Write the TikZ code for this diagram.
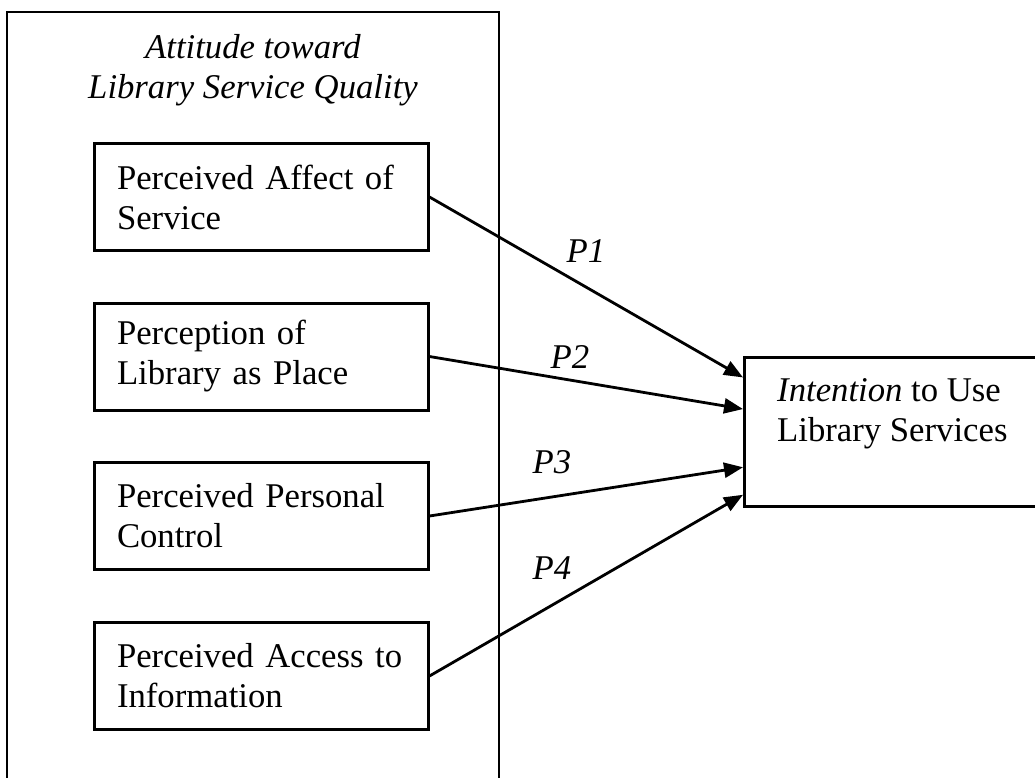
\documentclass[tikz,border=0pt]{standalone}
\usepackage{fontspec}
\setmainfont{Liberation Serif}
\usetikzlibrary{arrows.meta,calc}
\begin{document}
\begin{tikzpicture}[x=1pt,y=-1pt,
  font=\fontsize{34.7}{40}\selectfont,
  frame/.style={draw,line width=2pt},
  factor/.style={draw,line width=3pt,minimum width=334pt,minimum height=107pt,
    text width=288pt,align=left,inner xsep=23pt,inner ysep=0pt},
  outcome/.style={draw,line width=3pt,minimum width=320pt,minimum height=149pt,
    anchor=north west,inner sep=0pt},
  plain/.style={inner sep=0pt},
  conn/.style={line width=2.8pt,-{Triangle[length=19pt,width=15pt]}},
  plabel/.style={inner sep=0pt,anchor=base,font=\fontsize{34.7}{40}\selectfont\itshape}]
\useasboundingbox (0,0) rectangle (1035,777);
\clip (0,0) rectangle (1035,777);

% group frame (open at the bottom of the page)
\draw[frame] (7,800) -- (7,12) -- (499,12) -- (499,800);
\node[plain,anchor=north,align=center,font=\fontsize{34.7}{40}\selectfont\itshape] (title) at (253,34)
  {Attitude toward\\Library Service Quality};

% the four attitude factors
\node[factor] (affect)  at (261,197)   {Perceived Affect of\\Service};
\node[factor] (place)   at (261,356.5) {Perception of\\Library as Place};
\node[factor] (control) at (261,516)   {Perceived Personal\\Control};
\node[factor] (access)  at (261,676)   {Perceived Access to\\Information};

% outcome box (runs off the right edge)
\node[outcome] (intent) at (743,356) {};
\node[plain,anchor=north west,align=left] (intenttext) at (777,378)
  {\textit{Intention} to Use\\Library Services};

% propositions
\draw[conn] (affect.east)  -- ($(intent.north west)!0.141!(intent.south west)$);
\draw[conn] (place.east)   -- ($(intent.north west)!0.349!(intent.south west)$);
\draw[conn] (control.east) -- ($(intent.north west)!0.732!(intent.south west)$);
\draw[conn] (access.east)  -- ($(intent.north west)!0.913!(intent.south west)$);

\node[plabel] (p1) at (586,262) {P1};
\node[plabel] (p2) at (570,368) {P2};
\node[plabel] (p3) at (552,473) {P3};
\node[plabel] (p4) at (552,579) {P4};
\end{tikzpicture}
\end{document}
